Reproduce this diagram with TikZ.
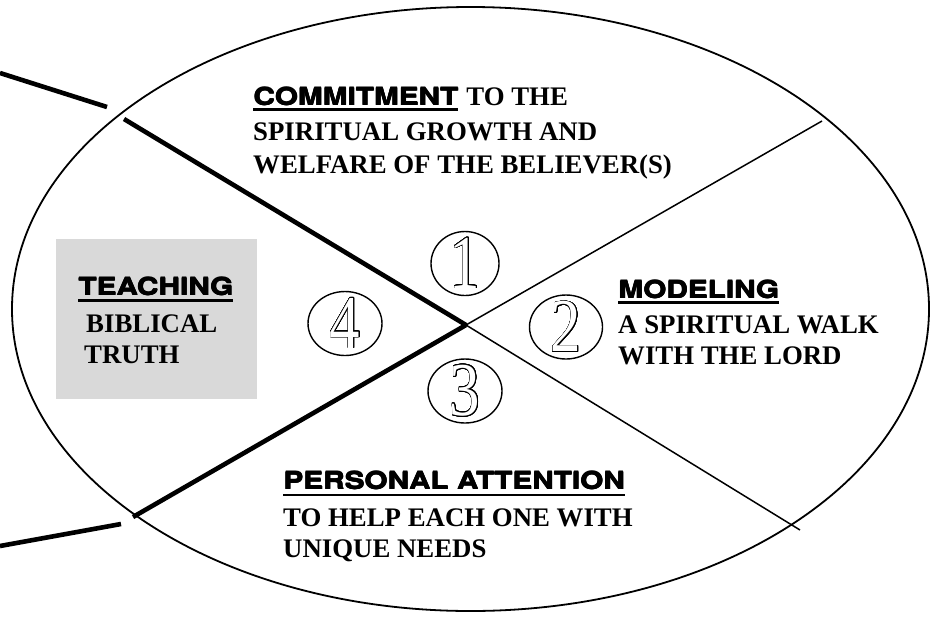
\documentclass[tikz,border=0pt]{standalone}
\usepackage{fontspec}
\setmainfont{Liberation Serif}
\newfontfamily\headfont[BoldFont={TeX Gyre Heros Bold}]{TeX Gyre Heros}
\usepackage[copies]{contour}
\contourlength{0.7pt}
\contournumber{32}
\newcommand\heavytext[1]{\scalebox{1.24}[1]{\makebox[0pt][l]{\kern0.6pt#1}\makebox[0pt][l]{\kern0.3pt\raisebox{0.4pt}{#1}}\makebox[0pt][l]{\kern0.3pt\raisebox{-0.3pt}{#1}}#1}}
\newcommand\hollowdigit[1]{\scalebox{0.8}[1]{\contour{black}{\textcolor{white}{#1}}}}
\usetikzlibrary{shapes.geometric}
\definecolor{boxgray}{HTML}{D9D9D9}
\begin{document}
\begin{tikzpicture}[x=1pt,y=-1pt,
  ring/.style={draw=black,line width=1.8pt},
  heavyline/.style={line width=4.6pt},
  lightline/.style={line width=1.5pt},
  numcirc/.style={ellipse,draw,line width=1.4pt,inner sep=0pt,minimum height=64pt},
  head/.style={anchor=base west,inner sep=0pt,font=\headfont\bfseries\fontsize{24}{28}\selectfont},
  body/.style={anchor=base west,inner sep=0pt,font=\bfseries\fontsize{26.8}{30}\selectfont},
  ul/.style={line width=2.6pt},
  digit/.style={inner sep=0pt,font=\fontsize{76}{76}\selectfont}
]
\useasboundingbox (0,0) rectangle (933,616);

% gray box
\node[fill=boxgray,minimum width=201pt,minimum height=160pt,inner sep=0pt,anchor=north west] (tbox) at (56,239) {};

% main ellipse
\draw[ring] (470.5,309) ellipse [x radius=458.5, y radius=302];

% coordinates
\coordinate (X) at (466,325);
\coordinate (ulin) at (124,119);
\coordinate (llin) at (133,517);
\coordinate (urin) at (822,121);
\coordinate (lrin) at (800,530);
\coordinate (ulo1) at (0,73);
\coordinate (ulo2) at (107,107);
\coordinate (llo1) at (121,524);
\coordinate (llo2) at (0,546);

\draw[heavyline] (ulo1) -- (ulo2);
\draw[heavyline] (llo1) -- (llo2);
\draw[heavyline] (ulin) -- (X);
\draw[heavyline] (X) -- (llin);
\draw[lightline] (X) -- (urin);
\draw[lightline] (X) -- (lrin);

% number circles
\node[numcirc,minimum width=68pt] (n1) at (465,263.5) {};
\node[numcirc,minimum width=73pt] (n2) at (566,327) {};
\node[numcirc,minimum width=74pt] (n3) at (465,391) {};
\node[numcirc,minimum width=74pt] (n4) at (345,323.5) {};
\node[digit] (d1) at (n1.center) {\hollowdigit{1}};
\node[digit] (d2) at (n2.center) {\hollowdigit{2}};
\node[digit] (d3) at (n3.center) {\hollowdigit{3}};
\node[digit] (d4) at (n4.center) {\hollowdigit{4}};

% commitment
\node[head] (cm) at (253,105) {\heavytext{COMMITMENT}};
\node[body] (cm1) at ([xshift=8pt]cm.base east) {TO THE};
\node[body] (cm2) at (253,140) {SPIRITUAL GROWTH AND};
\node[body] (cm3) at (253,173) {WELFARE OF THE BELIEVER(S)};
\draw[ul] ([yshift=-4.5pt]cm.base west) -- ([yshift=-4.5pt]cm.base east);

% teaching
\node[head] (te) at (78,295) {\heavytext{TEACHING}};
\node[body] (te2) at (86,332) {BIBLICAL};
\node[body] (te3) at (84,363) {TRUTH};
\draw[ul] ([yshift=-5.5pt]te.base west) -- ([yshift=-5.5pt]te.base east);

% modeling
\node[head] (mo) at (618,298) {\heavytext{MODELING}};
\node[body] (mo2) at (618,333) {A SPIRITUAL WALK};
\node[body] (mo3) at (618,364) {WITH THE LORD};
\draw[ul] ([yshift=-4.5pt]mo.base west) -- ([yshift=-4.5pt]mo.base east);

% personal attention
\node[head] (pa) at (283,489) {\heavytext{PERSONAL ATTENTION}};
\node[body] (pa2) at (283,526) {TO HELP EACH ONE WITH};
\node[body] (pa3) at (283,557) {UNIQUE NEEDS};
\draw[ul] ([yshift=-6pt]pa.base west) -- ([yshift=-6pt]pa.base east);
\end{tikzpicture}
\end{document}
